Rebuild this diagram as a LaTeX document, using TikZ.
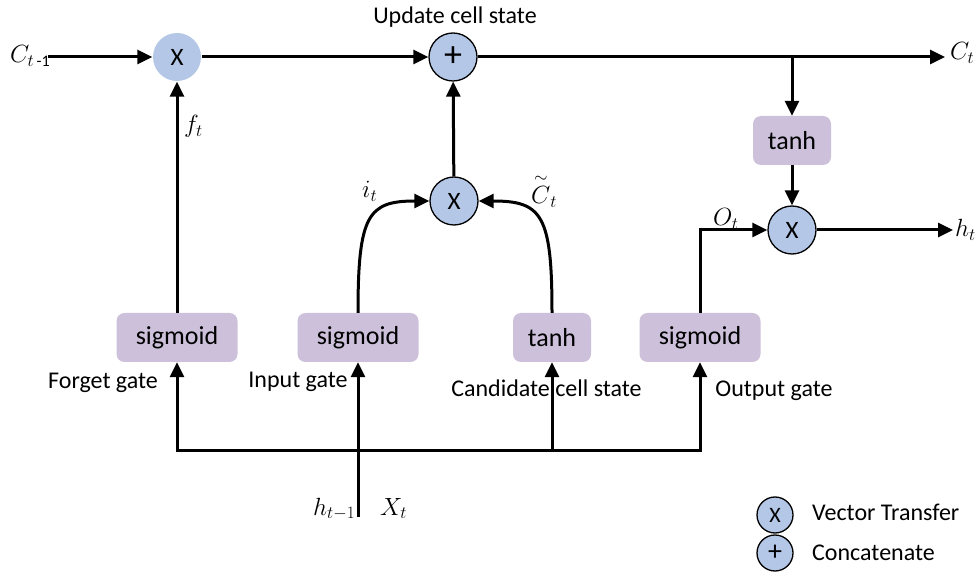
\documentclass[tikz,border=0pt]{standalone}
\usepackage{amsmath}
\usepackage{fontspec}
\setmainfont{Carlito}
\usetikzlibrary{arrows.meta}
\definecolor{cfill}{HTML}{B4C7E7}
\definecolor{bfill}{HTML}{CCC0DA}
\begin{document}
\begin{tikzpicture}[x=1pt,y=-1pt,
  tip/.tip={Triangle[length=15pt,width=14pt]},
  conn/.style={line width=3pt,-tip},
  wire/.style={line width=3pt},
  opc/.style={circle,fill=cfill,draw=black,line width=1.3pt,minimum size=48pt,inner sep=0pt,font=\fontsize{25}{28}\selectfont},
  opcn/.style={opc,draw=none},
  plusc/.style={opc,font=\fontsize{36}{36}\selectfont},
  fbox/.style={rectangle,rounded corners=8pt,fill=bfill,minimum width=121pt,minimum height=49pt,inner sep=0pt,font=\fontsize{26}{30}\selectfont},
  lbl/.style={font=\fontsize{24}{28}\selectfont,inner sep=0pt},
  mlbl/.style={font=\fontsize{23}{27}\selectfont,inner sep=0pt},
  legc/.style={opc,minimum size=36pt,font=\fontsize{22}{24}\selectfont},
  legp/.style={legc,font=\fontsize{28}{28}\selectfont}
]
\useasboundingbox (0,0) rectangle (978,577);

% operator circles
\node[opcn] (f) at (177,57) {X};
\node[plusc] (add) at (453,57) {+};
\node[opc] (m) at (454,201) {X};
\node[opc] (o) at (792,230) {X};

% function boxes
\node[fbox] (sf) at (177,337.5) {sigmoid};
\node[fbox] (si) at (358,337.5) {sigmoid};
\node[fbox,minimum width=78pt] (tc) at (552,337.5) {tanh};
\node[fbox] (so) at (700,337.5) {sigmoid};
\node[fbox,minimum width=78pt] (th) at (792,140.5) {tanh};

% free ends
\coordinate (cin) at (48,57);
\coordinate (cout) at (945,57);
\coordinate (hout) at (953,230);
\coordinate (b1) at (177,450);
\coordinate (b2) at (700,450);
\coordinate (hin) at (358,517);

% cell state line
\draw[conn] (cin) -- (f);
\draw[conn] (f) -- (add);
\draw[conn] (add) -- (cout);
\draw[conn] (th.north |- add) -- (th);
\draw[conn] (th) -- (o);
\draw[conn] (o) -- (hout);

% gates
\draw[conn] (sf) -- (f);
\draw[conn] (m) -- (add);
\draw[conn] (si.north) .. controls (358,215) and (368,201) .. (m.west);
\draw[conn] (tc.north) .. controls (552,215) and (542,201) .. (m.east);
\draw[conn] (so.north) |- (o);

% input bus
\draw[wire,tip-tip] (sf.south) -- (b1) -- (b2) -- (so.south);
\draw[conn] (tc.south |- b1) -- (tc);
\draw[conn] (hin) -- (si);

% labels
\node[lbl,anchor=base] at (455,24) {Update cell state};
\node[lbl,anchor=base] at (103,389) {Forget gate};
\node[lbl,anchor=base] at (298,388) {Input gate};
\node[lbl,anchor=base] at (546.5,397) {Candidate cell state};
\node[lbl,anchor=base] at (774,397) {Output gate};

\node[mlbl,anchor=base west] at (10,63) {$C_{t\,\text{-1}}$};
\node[mlbl,anchor=base west] at (950,60) {$C_t$};
\node[mlbl,anchor=base west] at (184,133) {$f_t$};
\node[mlbl,anchor=base west] at (362,198) {$i_t$};
\node[mlbl,anchor=base west] at (531,204) {$\overset{\sim}{C}_t$};
\node[mlbl,anchor=base west] at (713,226) {$O_t$};
\node[mlbl,anchor=base west] at (955,237) {$h_t$};
\node[mlbl,anchor=base west] at (313,515) {$h_{t-1}$};
\node[mlbl,anchor=base west] at (380,515) {$X_t$};

% legend
\node[legc] (lx) at (775,515) {X};
\node[legp] (lp) at (775,553) {+};
\node[lbl,anchor=base west] (lxt) at (812,520) {Vector Transfer};
\node[lbl,anchor=base west] (lpt) at (812,560) {Concatenate};
\end{tikzpicture}
\end{document}
